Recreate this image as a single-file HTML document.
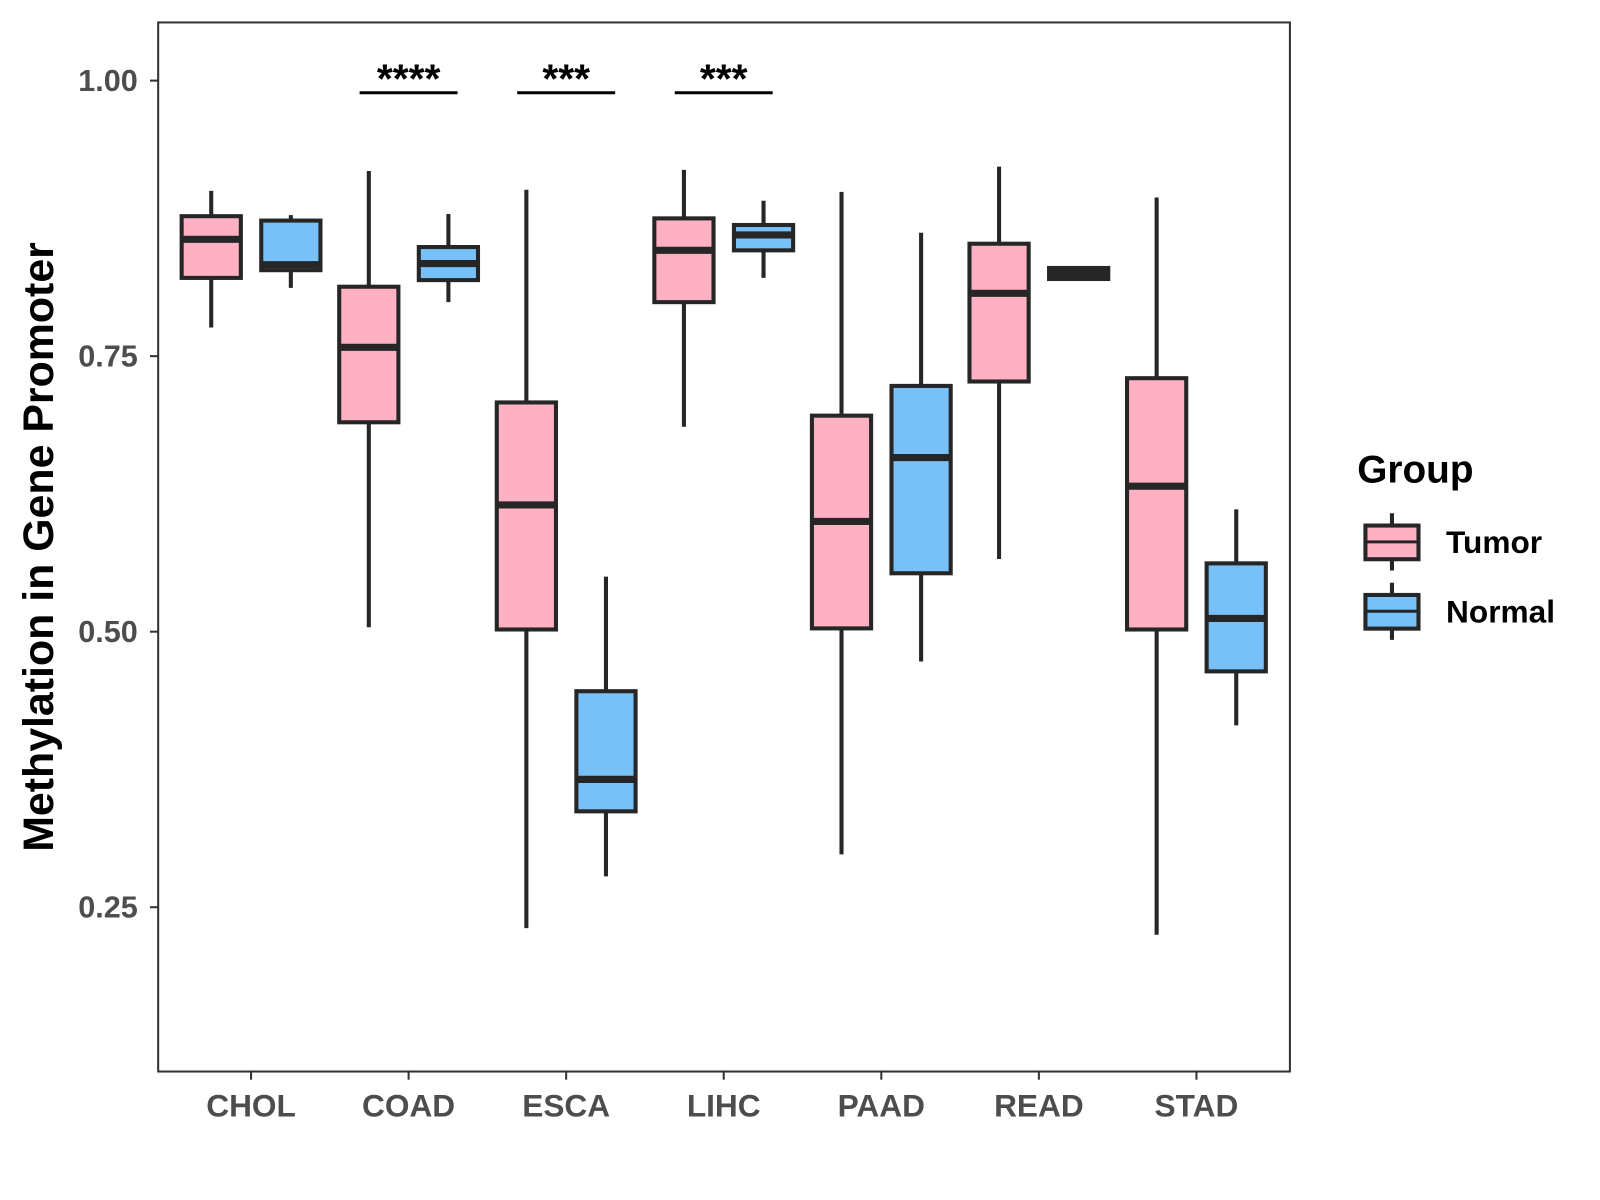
<!DOCTYPE html>
<html><head><meta charset="utf-8"><style>
body{margin:0;background:#fff;}
svg{display:block;font-family:"Liberation Sans",Arial,sans-serif;}
</style></head><body>
<svg width="1600" height="1200"><g id="chart" transform="scale(1.0205)"></g></svg>
<script>
const categories=["CHOL","COAD","ESCA","LIHC","PAAD","READ","STAD"];
// [lower whisker, q1, median, q3, upper whisker]
const tumorStats=[[0.776,0.821,0.856,0.877,0.900],[0.504,0.690,0.758,0.813,0.918],[0.231,0.502,0.615,0.708,0.901],[0.686,0.799,0.846,0.875,0.919],[0.298,0.503,0.600,0.696,0.899],[0.566,0.727,0.807,0.852,0.922],[0.225,0.502,0.632,0.730,0.894]];
const normalStats=[[0.812,0.828,0.833,0.873,0.878],[0.799,0.819,0.834,0.849,0.879],[0.278,0.337,0.366,0.446,0.550],[0.821,0.846,0.860,0.869,0.891],[0.473,0.553,0.658,0.723,0.862],[0.819,0.820,0.825,0.830,0.831],[0.415,0.464,0.512,0.562,0.611]];
const yTicks=[0.25,0.50,0.75,1.00];
const yTickLabels=["0.25","0.50","0.75","1.00"];
const sigCats=["COAD","ESCA","LIHC"];
const sigLabels=["****","***","***"];
const sigLevel=0.989;

const svg=document.getElementById('chart');
const NS="http://www.w3.org/2000/svg";
const L=155,R=1264,T=22,B=1050;
function y(v){return 79+(1-v)*1080;}
function x(i){return 246+i*154.4;}
function el(tag,attrs,parent){const e=document.createElementNS(NS,tag);for(const k in attrs)e.setAttribute(k,attrs[k]);(parent||svg).appendChild(e);return e;}

const panel=el('rect',{x:L,y:T,width:R-L,height:B-T,fill:'#fff',stroke:'#333','stroke-width':2});



yTicks.forEach((t,i)=>{
  const tk=el('line',{x1:L-8,x2:L,y1:y(t),y2:y(t),stroke:'#333','stroke-width':2});
  
  
  const lb=el('text',{x:L-20,y:y(t)+10,'text-anchor':'end','font-size':30,'font-weight':'bold',fill:'#4d4d4d'});
  lb.textContent=yTickLabels[i];
  
  
});
categories.forEach((c,i)=>{
  const tk=el('line',{x1:x(i),x2:x(i),y1:B,y2:B+8,stroke:'#333','stroke-width':2});
  
  
  const lb=el('text',{x:x(i),y:B+44,'text-anchor':'middle','font-size':31,'font-weight':'bold',fill:'#4d4d4d'});
  lb.textContent=c;
  
  
});

function box(cx,s,fill,name){
  const g=el('g',{});
  
  
  const w=58;
  el('line',{x1:cx,x2:cx,y1:y(s[0]),y2:y(s[4]),stroke:'#262626','stroke-width':4},g);
  el('rect',{x:cx-w/2,y:y(s[3]),width:w,height:Math.max(y(s[1])-y(s[3]),1),fill:fill,stroke:'#262626','stroke-width':4},g);
  el('line',{x1:cx-w/2,x2:cx+w/2,y1:y(s[2]),y2:y(s[2]),stroke:'#262626','stroke-width':7},g);
}
categories.forEach((c,i)=>{
  box(x(i)-39,tumorStats[i],'#FDB1C3','box-tumor-'+c.toLowerCase());
  box(x(i)+39,normalStats[i],'#77C1F8','box-normal-'+c.toLowerCase());
});
sigCats.forEach((c,k)=>{
  const i=categories.indexOf(c);
  const ln=el('line',{x1:x(i)-48,x2:x(i)+48,y1:y(sigLevel),y2:y(sigLevel),stroke:'#000','stroke-width':3});
  
  
  const t=el('text',{x:x(i),y:y(sigLevel),'text-anchor':'middle','font-size':40,'font-weight':'bold',fill:'#000'});
  t.textContent=sigLabels[k];
  
  
});

const yt=el('text',{x:0,y:0,transform:'translate(52,536) rotate(-90)','text-anchor':'middle','font-size':42,'font-weight':'bold',fill:'#000'});
yt.textContent='Methylation in Gene Promoter';



const lg=el('g',{});


const lt=el('text',{x:1330,y:473,'font-size':38,'font-weight':'bold',fill:'#000'},lg);
lt.textContent='Group';


[["Tumor","#FDB1C3",531],["Normal","#77C1F8",599]].forEach(([n,f,cy])=>{
  const e=el('g',{},lg);
  
  
  el('line',{x1:1364,x2:1364,y1:cy-28,y2:cy+28,stroke:'#262626','stroke-width':4},e);
  el('rect',{x:1338,y:cy-16,width:52,height:33,fill:f,stroke:'#262626','stroke-width':4},e);
  el('line',{x1:1338,x2:1390,y1:cy,y2:cy,stroke:'#262626','stroke-width':3},e);
  const t=el('text',{x:1417,y:cy+11,'font-size':31,'font-weight':'bold',fill:'#000'},e);
  t.textContent=n;
});
</script>
</body></html>
